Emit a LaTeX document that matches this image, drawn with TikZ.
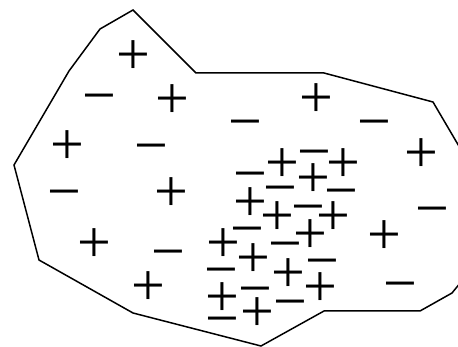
\documentclass[tikz,border=0pt]{standalone}
\usepackage{fontspec}
\newfontfamily\chargefont{Liberation Serif}
\tikzset{
  charge/.style={font=\chargefont\fontsize{60}{60}\selectfont, inner sep=0pt, text height=30pt, text depth=0pt},
  boundary/.style={black, line width=1.5pt, line join=miter}
}

\begin{document}
\begin{tikzpicture}[x=1pt, y=-1pt]
\useasboundingbox (0,0) rectangle (458,347);
\clip (0,0) rectangle (458,347);
% outline of the region
\coordinate (A) at (133,10);
\coordinate (B) at (100,29);
\coordinate (C) at (69,71);
\coordinate (D) at (14,165);
\coordinate (E) at (39,260);
\coordinate (F) at (133,313);
\coordinate (G) at (261,346);
\coordinate (H) at (324,311);
\coordinate (I) at (420,311);
\coordinate (J) at (452,293);
\coordinate (K) at (470,271);
\coordinate (L) at (470,165);
\coordinate (M) at (433,102);
\coordinate (N) at (324,73);
\coordinate (O) at (196,73);
\draw[boundary] (A)--(B)--(C)--(D)--(E)--(F)--(G)--(H)--(I)--(J)--(K)--(L)--(M)--(N)--(O)--cycle;
% scattered charges
\node[charge] (p1) at (133,60) {+};
\node[charge] (m1) at (99,101) {−};
\node[charge] (p2) at (172,104) {+};
\node[charge] (p3) at (316,103) {+};
\node[charge] (m2) at (245,127) {−};
\node[charge] (m3) at (374,127) {−};
\node[charge] (p4) at (67,150) {+};
\node[charge] (m4) at (151,151) {−};
\node[charge] (p5) at (421,158) {+};
\node[charge] (m5) at (64,197) {−};
\node[charge] (p6) at (171,197) {+};
\node[charge] (m6) at (432,214) {−};
\node[charge] (p7) at (94,248) {+};
\node[charge] (m7) at (168,257) {−};
\node[charge] (p8) at (384,240) {+};
\node[charge] (p9) at (148,291) {+};
\node[charge] (m8) at (400,289) {−};
% dense cluster
\node[charge] (m9) at (250,179) {−};
\node[charge] (p10) at (282,168) {+};
\node[charge] (m10) at (314,157) {−};
\node[charge] (p11) at (343,168) {+};
\node[charge] (p12) at (313,183) {+};
\node[charge] (m11) at (280,193) {−};
\node[charge] (m12) at (341,196) {−};
\node[charge] (p13) at (250,207) {+};
\node[charge] (p14) at (277,221) {+};
\node[charge] (m13) at (308,212) {−};
\node[charge] (p15) at (333,221) {+};
\node[charge] (m14) at (247,234) {−};
\node[charge] (p16) at (223,248) {+};
\node[charge] (p17) at (310,239) {+};
\node[charge] (m15) at (285,249) {−};
\node[charge] (p18) at (253,263) {+};
\node[charge] (m16) at (221,275) {−};
\node[charge] (p19) at (288,278) {+};
\node[charge] (m17) at (322,266) {−};
\node[charge] (p20) at (222,302) {+};
\node[charge] (m18) at (255,294) {−};
\node[charge] (p21) at (320,292) {+};
\node[charge] (m19) at (290,307) {−};
\node[charge] (p22) at (257,317) {+};
\node[charge] (m20) at (222,324) {−};
\end{tikzpicture}
\end{document}
